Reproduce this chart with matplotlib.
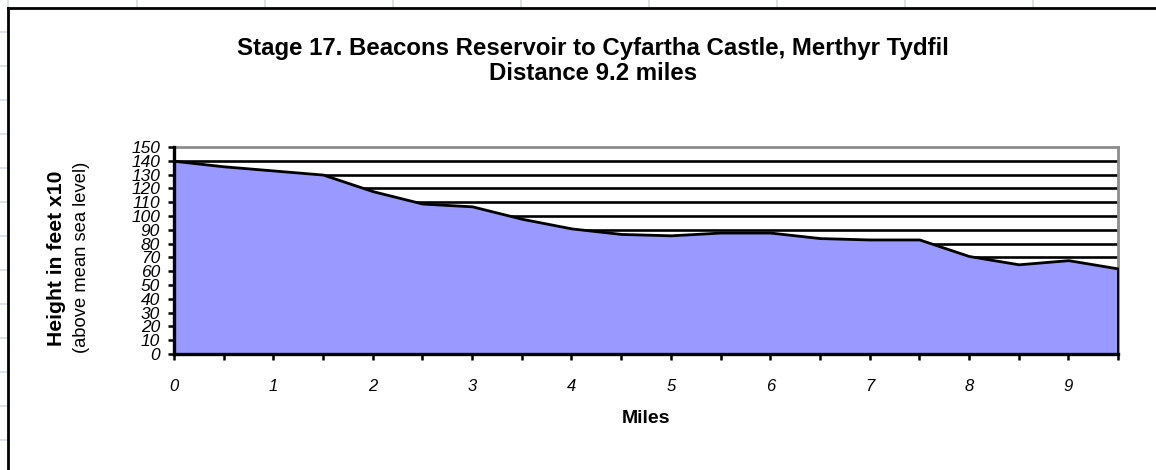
import numpy as np
import matplotlib.pyplot as plt
from matplotlib.lines import Line2D

plt.rcParams['font.family'] = ['Liberation Sans', 'DejaVu Sans']

# distance along the route (miles) and height (feet x10)
miles = [0, 0.5, 1, 1.5, 2, 2.5, 3, 3.5, 4, 4.5, 5, 5.5, 6, 6.5, 7, 7.5, 8, 8.5, 9, 9.5]
height = [140, 136, 133, 130, 118, 109, 107, 98, 91, 87, 86, 88, 88, 84, 83, 83, 71, 65, 68, 62]
xlabels = ['0', '1', '2', '3', '4', '5', '6', '7', '8', '9']
ylabels = ['0', '10', '20', '30', '40', '50', '60', '70', '80', '90', '100',
           '110', '120', '130', '140', '150']

W, H = 1156, 470
fig = plt.figure(figsize=(W / 100, H / 100), dpi=100)

# spreadsheet cell lines behind the chart object
grid_col = '#d4dbe8'
for xc in [8, 137, 265, 393, 521, 649, 777, 905, 1033]:
    fig.add_artist(Line2D([xc / W, xc / W], [1, 1 - 7 / H], color=grid_col, lw=1.2))
for yc in [32, 66, 100, 134, 168, 202, 236, 270, 304, 338, 372, 406, 440]:
    fig.add_artist(Line2D([0, 7 / W], [1 - yc / H, 1 - yc / H], color=grid_col, lw=1.2))

# chart object border (runs off the right and bottom of the picture)
fig.add_artist(Line2D([8 / W, 1], [1 - 8 / H, 1 - 8 / H], color='black', lw=2))
fig.add_artist(Line2D([8 / W, 8 / W], [1 - 8 / H, 0], color='black', lw=2))

ax = fig.add_axes([174 / W, 1 - 354 / H, (1118 - 174) / W, (354 - 147) / H])

ax.fill_between(miles, height, 0, facecolor='#9999ff', edgecolor='black', lw=2, zorder=3)

ax.set_xlim(0, 9.5)
ax.set_ylim(0, 150)

yt = [int(v) for v in ylabels]
ax.set_yticks(yt)
ax.set_yticklabels(ylabels, fontsize=12.5, style='italic')
for v in yt[1:-1]:
    ax.axhline(v, color='black', lw=1.9, zorder=1)

ax.set_xticks(miles)
ax.set_xticklabels([xlabels[int(m)] if m == int(m) else '' for m in miles],
                   fontsize=12, style='italic')

ax.tick_params(axis='y', direction='out', length=4, width=1.8, pad=6)
ax.tick_params(axis='x', direction='out', length=4, width=1.8, pad=14)

for s in ['top', 'right']:
    ax.spines[s].set_color('#8c8c8c')
    ax.spines[s].set_linewidth(2)
for s in ['left', 'bottom']:
    ax.spines[s].set_color('black')
    ax.spines[s].set_linewidth(2.4)
    ax.spines[s].set_zorder(4)

# titles and axis labels
fig.text(593 / W, 1 - 55 / H, 'Stage 17. Beacons Reservoir to Cyfartha Castle, Merthyr Tydfil',
         ha='center', va='baseline', fontsize=17.3, fontweight='bold')
fig.text(593 / W, 1 - 80 / H, 'Distance 9.2 miles',
         ha='center', va='baseline', fontsize=17.3, fontweight='bold')
fig.text(646 / W, 1 - 423 / H, 'Miles', ha='center', va='baseline',
         fontsize=14, fontweight='bold')
fig.text(57 / W, 1 - 258 / H, 'Height in feet x10', rotation=90, ha='center', va='center',
         fontsize=15.2, fontweight='bold')
fig.text(82 / W, 1 - 257 / H, '(above mean sea level)', rotation=90, ha='center', va='center',
         fontsize=13.2)

fig.savefig('out.png', dpi=100)
